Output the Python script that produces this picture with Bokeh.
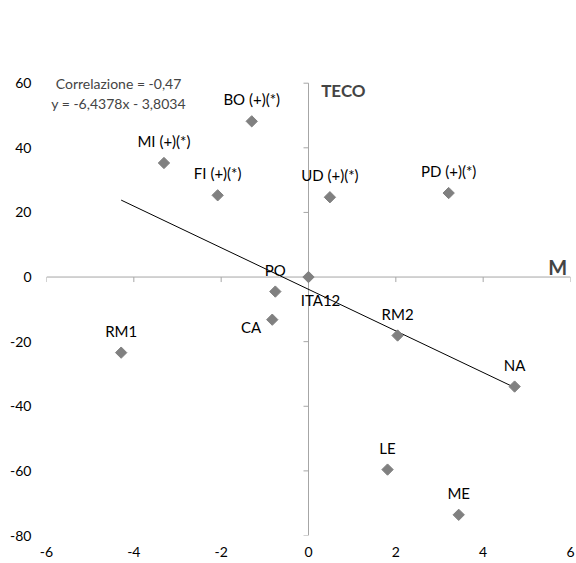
import numpy as np
from bokeh.plotting import figure
from bokeh.models import LinearAxis, FixedTicker, Range1d, ColumnDataSource, Label
from bokeh.core.properties import value
from bokeh.embed import file_html
from bokeh.resources import INLINE

# ---- data ----
names = ["BO (+)(*)", "MI (+)(*)", "FI (+)(*)", "UD (+)(*)", "PD (+)(*)",
         "RM1", "PO", "CA", "ITA12", "RM2", "NA", "LE", "ME"]
x_vals = [-1.30, -3.31, -2.08, 0.49, 3.21, -4.29, -0.76, -0.83, 0.0, 2.04, 4.72, 1.81, 3.44]
y_vals = [48.2, 35.3, 25.3, 24.7, 26.0, -23.4, -4.5, -13.2, 0.0, -18.1, -33.9, -59.6, -73.6]
x_ticks = [-6, -4, -2, 0, 2, 4, 6]
y_ticks = [-80, -60, -40, -20, 0, 20, 40, 60]
slope = -6.4378
intercept = -3.8034
correlation = -0.47

# label placement (style)
placement = ["above"] * 7 + ["left", "below"] + ["above"] * 4

FONT = "Lato"
AXIS_COLOR = "#a6a6a6"
POINT_COLOR = "#808080"

p = figure(width=576, height=563, x_range=Range1d(-6, 6), y_range=Range1d(-80, 63),
           output_backend="svg", toolbar_location=None,
           x_axis_location=None, y_axis_location=None,
           min_border_left=46, min_border_right=6, min_border_top=73, min_border_bottom=28)
p.outline_line_color = None
p.xgrid.visible = False
p.ygrid.visible = False
p.background_fill_color = "white"
p.border_fill_color = "white"

# tick label axes at the frame edges (plain hyphen minus, as in the reference)
yl = LinearAxis(ticker=FixedTicker(ticks=y_ticks), axis_line_color=None,
                major_tick_line_color=None, minor_tick_line_color=None,
                major_tick_out=0, major_tick_in=0, minor_tick_out=0, minor_tick_in=0,
                major_label_standoff=15, major_label_text_font=FONT,
                major_label_text_font_size="14px", major_label_text_color="black",
                major_label_overrides={t: str(t) for t in y_ticks})
p.add_layout(yl, "left")
xl = LinearAxis(ticker=FixedTicker(ticks=x_ticks), axis_line_color=None,
                major_tick_line_color=None, minor_tick_line_color=None,
                major_tick_out=0, major_tick_in=0, minor_tick_out=0, minor_tick_in=0,
                major_label_standoff=11, major_label_text_font=FONT,
                major_label_text_font_size="14px", major_label_text_color="black",
                major_label_overrides={t: str(t) for t in x_ticks})
p.add_layout(xl, "below")

# axis lines through the origin, with outward tick marks
p.segment(x0=[0], y0=[min(y_ticks)], x1=[0], y1=[max(y_ticks)], line_color=AXIS_COLOR, line_width=1)
p.segment(x0=[min(x_ticks)], y0=[0], x1=[max(x_ticks)], y1=[0], line_color=AXIS_COLOR, line_width=1)
p.ray(x=[0] * len(y_ticks), y=y_ticks, length=5, length_units="screen", angle=np.pi,
      line_color=AXIS_COLOR, line_width=1)
p.ray(x=x_ticks, y=[0] * len(x_ticks), length=5, length_units="screen", angle=-np.pi / 2,
      line_color=AXIS_COLOR, line_width=1)

# trend line
tx = [min(x_vals), max(x_vals)]
ty = [slope * v + intercept for v in tx]
p.line(tx, ty, line_color="black", line_width=1)

# points
src = ColumnDataSource(dict(x=x_vals, y=y_vals, name=names))
p.scatter("x", "y", source=src, marker="square", angle=np.pi / 4, size=8,
          fill_color=POINT_COLOR, line_color=POINT_COLOR)

def subset(kind):
    idx = [i for i, k in enumerate(placement) if k == kind]
    return ColumnDataSource(dict(x=[x_vals[i] for i in idx], y=[y_vals[i] for i in idx],
                                 name=[names[i] for i in idx]))

common = dict(text="name", text_font=value(FONT), text_font_size="15px", text_color="black",
              text_baseline="middle")
p.text("x", "y", source=subset("above"), text_align="center", y_offset=-22, **common)
p.text("x", "y", source=subset("left"), text_align="right", x_offset=-11, y_offset=7, **common)
p.text("x", "y", source=subset("below"), text_align="center", x_offset=12, y_offset=23, **common)

# annotations
fmt = lambda v, d: f"{v:.{d}f}".replace(".", ",")
p.add_layout(Label(x=-4.35, y=59.8, text=f"Correlazione = {fmt(correlation, 2)}",
                   text_align="center", text_baseline="middle", text_font=FONT,
                   text_font_size="14px"))
p.add_layout(Label(x=-4.35, y=53.7,
                   text=f"y = {fmt(slope, 4)}x - {fmt(abs(intercept), 4)}",
                   text_align="center", text_baseline="middle", text_font=FONT,
                   text_font_size="14px"))
p.add_layout(Label(x=0.29, y=57.7, text="TECO", text_align="left", text_baseline="middle",
                   text_font=FONT, text_font_size="17px", text_font_style="bold"))
p.add_layout(Label(x=5.49, y=3.2, text="M", text_align="left", text_baseline="middle",
                   text_font=FONT, text_font_size="20px", text_font_style="bold"))

open("out.html", "w").write(file_html(p, INLINE))
